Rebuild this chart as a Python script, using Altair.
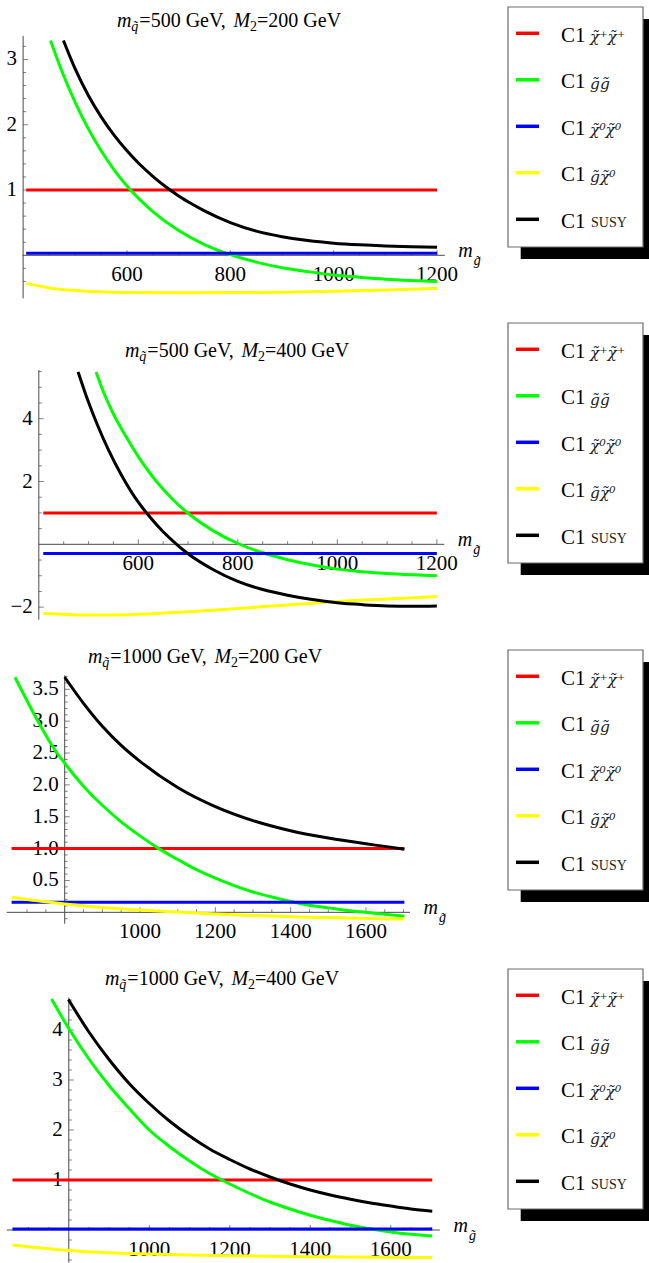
import altair as alt
import pandas as pd
import numpy as np

FONT = "Liberation Serif"
SUBFONT = "DejaVu Serif"
AXIS_COLOR = "#4a4a4a"
RED, GREEN, BLUE, YELLOW, BLACK = "#ff0000", "#00ff00", "#0000ff", "#ffff00", "#000000"
LW = 3.0

# ---------------- Panel 1: m_q = 500 GeV, M2 = 200 GeV ----------------
P1_CONST_X = [405, 1200]
P1_RED = 1.0
P1_BLUE = 0.03
P1_YELLOW_X = [405, 450, 500, 600, 700, 800, 900, 1000, 1100, 1200]
P1_YELLOW = [-0.43, -0.50, -0.54, -0.57, -0.575, -0.57, -0.565, -0.55, -0.53, -0.505]
P1_GREEN_X = [452, 475, 500, 525, 550, 575, 600, 650, 700, 750, 800, 850, 900, 950, 1000, 1050, 1100, 1150, 1200]
P1_GREEN = [3.29, 2.80, 2.34, 1.94, 1.60, 1.31, 1.06, 0.67, 0.38, 0.165, 0.01, -0.105, -0.19, -0.25, -0.30, -0.335, -0.365, -0.385, -0.40]
P1_BLACK_X = [477, 500, 525, 550, 575, 600, 625, 650, 675, 700, 725, 750, 800, 850, 900, 950, 1000, 1050, 1100, 1150, 1200]
P1_BLACK = [3.29, 2.85, 2.45, 2.12, 1.84, 1.60, 1.39, 1.21, 1.05, 0.91, 0.79, 0.68, 0.50, 0.37, 0.285, 0.225, 0.185, 0.16, 0.143, 0.132, 0.125]
P1_XMAJOR = [600, 800, 1000, 1200]
P1_XLABELS = ["600", "800", "1000", "1200"]
P1_YMAJOR = [1, 2, 3]
P1_YLABELS = ["1", "2", "3"]

# ---------------- Panel 2: m_q = 500 GeV, M2 = 400 GeV ----------------
P2_CONST_X = [409, 1200]
P2_RED = 1.0
P2_BLUE = -0.29
P2_YELLOW_X = [409, 450, 500, 550, 600, 700, 800, 900, 1000, 1100, 1200]
P2_YELLOW = [-2.2, -2.23, -2.25, -2.25, -2.23, -2.15, -2.04, -1.93, -1.82, -1.74, -1.66]
P2_GREEN_X = [515, 530, 550, 575, 600, 625, 650, 675, 700, 750, 800, 850, 900, 950, 1000, 1050, 1100, 1150, 1200]
P2_GREEN = [5.49, 4.85, 4.15, 3.44, 2.79, 2.23, 1.75, 1.34, 0.99, 0.435, 0.026, -0.27, -0.49, -0.66, -0.79, -0.87, -0.93, -0.97, -1.0]
P2_BLACK_X = [479, 500, 516, 540, 566, 600, 625, 650, 677, 700, 750, 800, 850, 900, 950, 1000, 1050, 1100, 1150, 1200]
P2_BLACK = [5.49, 4.52, 3.87, 3.01, 2.21, 1.34, 0.84, 0.40, 0.0, -0.30, -0.80, -1.18, -1.44, -1.62, -1.76, -1.86, -1.92, -1.96, -1.97, -1.96]
P2_XMAJOR = [600, 800, 1000, 1200]
P2_XLABELS = ["600", "800", "1000", "1200"]
P2_YMAJOR = [-2, 2, 4]
P2_YLABELS = ["\u22122", "2", "4"]

# ---------------- Panel 3: m_q = 1000 GeV, M2 = 200 GeV ----------------
P3_CONST_X = [659, 1702]
P3_RED = 1.0
P3_BLUE = 0.157
P3_YELLOW_X = [659, 700, 750, 800, 900, 1000, 1100, 1200, 1300, 1400, 1500, 1600, 1702]
P3_YELLOW = [0.235, 0.2, 0.165, 0.13, 0.075, 0.037, 0.005, -0.025, -0.05, -0.068, -0.083, -0.095, -0.105]
P3_GREEN_X = [668, 700, 726, 750, 775, 800, 850, 900, 950, 1000, 1050, 1100, 1150, 1200, 1250, 1300, 1350, 1400, 1450, 1500, 1550, 1600, 1650, 1702]
P3_GREEN = [3.69, 3.32, 3.03, 2.78, 2.54, 2.34, 1.98, 1.68, 1.42, 1.20, 1.0, 0.83, 0.67, 0.535, 0.42, 0.32, 0.24, 0.17, 0.11, 0.07, 0.03, 0.0, -0.03, -0.06]
P3_BLACK_X = [800, 850, 900, 950, 1000, 1100, 1200, 1300, 1400, 1500, 1600, 1650, 1702]
P3_BLACK = [3.69, 3.28, 2.92, 2.62, 2.37, 1.96, 1.66, 1.44, 1.28, 1.165, 1.075, 1.035, 0.99]
P3_XMAJOR = [1000, 1200, 1400, 1600]
P3_XLABELS = ["1000", "1200", "1400", "1600"]
P3_YMAJOR = [0.5, 1.0, 1.5, 2.0, 2.5, 3.0, 3.5]
P3_YLABELS = ["0.5", "1.0", "1.5", "2.0", "2.5", "3.0", "3.5"]

# ---------------- Panel 4: m_q = 1000 GeV, M2 = 400 GeV ----------------
P4_CONST_X = [660, 1703]
P4_RED = 1.0
P4_BLUE = 0.02
P4_YELLOW_X = [660, 700, 750, 800, 900, 1000, 1100, 1200, 1300, 1400, 1500, 1600, 1703]
P4_YELLOW = [-0.30, -0.335, -0.375, -0.41, -0.455, -0.48, -0.50, -0.515, -0.525, -0.533, -0.54, -0.545, -0.55]
P4_GREEN_X = [757, 800, 850, 900, 950, 1000, 1050, 1100, 1150, 1200, 1250, 1300, 1350, 1400, 1450, 1500, 1550, 1600, 1650, 1703]
P4_GREEN = [4.62, 4.03, 3.42, 2.89, 2.43, 2.0, 1.67, 1.38, 1.13, 0.92, 0.73, 0.56, 0.42, 0.295, 0.19, 0.095, 0.02, -0.04, -0.085, -0.12]
P4_BLACK_X = [799, 850, 900, 950, 1000, 1050, 1100, 1150, 1200, 1250, 1300, 1350, 1400, 1450, 1500, 1550, 1600, 1650, 1703]
P4_BLACK = [4.61, 3.96, 3.41, 2.93, 2.53, 2.18, 1.88, 1.62, 1.41, 1.22, 1.06, 0.92, 0.80, 0.70, 0.615, 0.54, 0.478, 0.42, 0.375]
P4_XMAJOR = [1000, 1200, 1400, 1600]
P4_XLABELS = ["1000", "1200", "1400", "1600"]
P4_YMAJOR = [1, 2, 3, 4]
P4_YLABELS = ["1", "2", "3", "4"]

# legend
LEG_SUBS = ["\u03c7\u0303\u207a\u03c7\u0303\u207a", "g\u0303g\u0303", "\u03c7\u0303\u2070\u03c7\u0303\u2070", "g\u0303\u03c7\u0303\u2070", "SUSY"]
LEG_COLORS = [RED, GREEN, BLUE, YELLOW, BLACK]


def ticks_between(start, stop, step, exclude):
    vals = np.round(np.arange(start, stop + step / 2, step), 6)
    return [float(v) for v in vals if not any(abs(v - e) < 1e-6 for e in exclude)]


# geometry (pixel layout of each panel)
G1 = dict(xd=[398, 1215], xr=[22.6, 444.8], yd=[-0.66, 3.36], yr=[298.4, 35.9], x0=399,
          xminor=ticks_between(450, 1200, 50, P1_XMAJOR), yminor=ticks_between(-0.4, 3.2, 0.2, [0] + P1_YMAJOR),
          title=("500", "200"), tcx=229, tby=27, leg=7)
G2 = dict(xd=[400, 1215], xr=[38.8, 444.3], yd=[-2.4, 5.55], yr=[619.7, 370.0], x0=400,
          xminor=ticks_between(450, 1200, 50, P2_XMAJOR), yminor=ticks_between(-1.5, 5.5, 0.5, [0] + P2_YMAJOR),
          title=("500", "400"), tcx=237, tby=357, leg=323)
G3 = dict(xd=[646, 1717], xr=[6.7, 410.0], yd=[-0.18, 3.72], yr=[923.8, 675.3], x0=800,
          xminor=ticks_between(700, 1700, 50, P3_XMAJOR + [800]), yminor=ticks_between(-0.1, 3.7, 0.1, [0] + P3_YMAJOR),
          title=("1000", "200"), tcx=205, tby=663, leg=650)
G4 = dict(xd=[646, 1722], xr=[6.8, 439.9], yd=[-0.65, 4.65], yr=[1262.5, 997.5], x0=800,
          xminor=ticks_between(700, 1700, 50, P4_XMAJOR + [800]), yminor=ticks_between(-0.6, 4.6, 0.2, [0] + P4_YMAJOR),
          title=("1000", "400"), tcx=222, tby=985, leg=969)

REG_W = {'=': 0.564, ' ': 0.25, ',': 0.25, 'G': 0.722, 'e': 0.444, 'V': 0.722}


def text_at(t, x, y, size, style="normal", align="left"):
    return alt.Chart(pd.DataFrame({"t": [t]})).mark_text(
        font=FONT, fontSize=size, fontStyle=style, align=align, baseline="alphabetic", color="black"
    ).encode(x=alt.value(x), y=alt.value(y), text="t:N")


def title_layers(mq, m2, cx, base):
    S, s = 20, 14
    t1 = f"={mq} GeV, "
    t2 = f"={m2} GeV"
    pieces = [
        ("m", S, "italic", 0, 0.722 * S),
        ("q\u0303", s, "italic", 4, 0.5 * s + 1),
        (t1, S, "normal", 0, sum(REG_W.get(c, 0.5) for c in t1) * S),
        ("M", S, "italic", 0, 0.833 * S),
        ("2", s, "normal", 4, 0.5 * s),
        (t2, S, "normal", 0, sum(REG_W.get(c, 0.5) for c in t2) * S),
    ]
    total = sum(p[4] for p in pieces)
    x = cx - total / 2
    out = []
    for t, size, style, dy, w in pieces:
        out.append(text_at(t, x, base + dy, size, style))
        x += w
    return out


def panel_layers(g, cx_, red, blue, yx, yv, gx, gv, bx, bv, xmaj, xlab, ymaj, ylab):
    sx = alt.Scale(domain=g["xd"], range=g["xr"], nice=False, zero=False)
    sy = alt.Scale(domain=g["yd"], range=g["yr"], nice=False, zero=False)

    def X(f):
        return alt.X(f, scale=sx, axis=None)

    def Y(f):
        return alt.Y(f, scale=sy, axis=None)

    L = []
    ax = pd.DataFrame({"x": [g["xd"][0], g["x0"]], "x2": [g["xd"][1], g["x0"]],
                       "y": [0.0, g["yd"][0]], "y2": [0.0, g["yd"][1]]})
    L.append(alt.Chart(ax).mark_rule(color=AXIS_COLOR, strokeWidth=1).encode(
        x=X("x:Q"), x2="x2:Q", y=Y("y:Q"), y2="y2:Q"))

    for vals, ln in ((xmaj, 5), (g["xminor"], 3)):
        df = pd.DataFrame({"x": vals, "y": [0.0] * len(vals)})
        L.append(alt.Chart(df).mark_tick(orient="vertical", size=ln, thickness=1, yOffset=-ln / 2,
                                         color=AXIS_COLOR).encode(x=X("x:Q"), y=Y("y:Q")))
    for vals, ln in ((ymaj, 5), (g["yminor"], 3)):
        df = pd.DataFrame({"x": [g["x0"]] * len(vals), "y": vals})
        L.append(alt.Chart(df).mark_tick(orient="horizontal", size=ln, thickness=1, xOffset=ln / 2,
                                         color=AXIS_COLOR).encode(x=X("x:Q"), y=Y("y:Q")))

    xl = pd.DataFrame({"x": xmaj, "y": [0.0] * len(xmaj), "t": xlab})
    L.append(alt.Chart(xl).mark_text(font=FONT, fontSize=21, baseline="top", dy=9, color="black").encode(
        x=X("x:Q"), y=Y("y:Q"), text="t:N"))
    yl = pd.DataFrame({"x": [g["x0"]] * len(ymaj), "y": ymaj, "t": ylab})
    L.append(alt.Chart(yl).mark_text(font=FONT, fontSize=21, align="right", baseline="middle", dx=-6,
                                     color="black").encode(x=X("x:Q"), y=Y("y:Q"), text="t:N"))

    # axis label m_g~
    ml = pd.DataFrame({"x": [g["xd"][1]], "y": [0.0]})
    L.append(alt.Chart(ml).mark_text(font=FONT, fontSize=20, fontStyle="italic", align="left",
                                     baseline="alphabetic", dx=13.5, dy=2, text="m").encode(x=X("x:Q"), y=Y("y:Q")))
    L.append(alt.Chart(ml).mark_text(font=FONT, fontSize=14, fontStyle="italic", align="left",
                                     baseline="alphabetic", dx=29, dy=10, text="g\u0303").encode(x=X("x:Q"), y=Y("y:Q")))

    series = [
        (cx_, [red, red], RED),
        (gx, gv, GREEN),
        (cx_, [blue, blue], BLUE),
        (yx, yv, YELLOW),
        (bx, bv, BLACK),
    ]
    for xs_, ys_, col in series:
        df = pd.DataFrame({"x": xs_, "y": ys_})
        L.append(alt.Chart(df).mark_line(color=col, strokeWidth=LW, interpolate="monotone").encode(
            x=X("x:Q"), y=Y("y:Q")))

    L += title_layers(g["title"][0], g["title"][1], g["tcx"], g["tby"])
    L += legend_layers(g["leg"])
    return L


def legend_layers(top):
    left, right, h = 508, 643, 240
    one = pd.DataFrame({"a": [0]})
    out = [
        alt.Chart(one).mark_rect(color="black").encode(
            x=alt.value(left + 12.7), x2=alt.value(right + 12.7), y=alt.value(top + 12), y2=alt.value(top + h + 12)),
        alt.Chart(one).mark_rect(fill="white", stroke="#6b6b6b", strokeWidth=1.2).encode(
            x=alt.value(left), x2=alt.value(right), y=alt.value(top), y2=alt.value(top + h)),
    ]
    ldf = pd.DataFrame({"idx": [0, 1, 2, 3, 4], "color": LEG_COLORS, "sub": LEG_SUBS})
    sy = alt.Scale(domain=[0, 4], range=[top + 26.3, top + 26.3 + 4 * 46.5], nice=False, zero=False)
    Y = alt.Y("idx:Q", scale=sy, axis=None)
    out.append(alt.Chart(ldf).mark_rule(strokeWidth=3.5).encode(
        x=alt.value(516), x2=alt.value(539), y=Y, color=alt.Color("color:N", scale=None, legend=None)))
    out.append(alt.Chart(ldf).mark_text(font=FONT, fontSize=21, align="left", baseline="alphabetic", dy=8.4,
                                        text="C1", color="black").encode(x=alt.value(561), y=Y))
    out.append(alt.Chart(ldf).transform_filter("datum.idx < 4").mark_text(
        font=SUBFONT, fontSize=15.5, fontStyle="italic", align="left", baseline="alphabetic", dy=9,
        color="#222222").encode(x=alt.value(590), y=Y, text="sub:N"))
    out.append(alt.Chart(ldf).transform_filter("datum.idx == 4").mark_text(
        font=FONT, fontSize=14, align="left", baseline="alphabetic", dy=7.5,
        color="#222222").encode(x=alt.value(591), y=Y, text="sub:N"))
    return out


layers = []
layers += panel_layers(G1, P1_CONST_X, P1_RED, P1_BLUE, P1_YELLOW_X, P1_YELLOW, P1_GREEN_X, P1_GREEN,
                       P1_BLACK_X, P1_BLACK, P1_XMAJOR, P1_XLABELS, P1_YMAJOR, P1_YLABELS)
layers += panel_layers(G2, P2_CONST_X, P2_RED, P2_BLUE, P2_YELLOW_X, P2_YELLOW, P2_GREEN_X, P2_GREEN,
                       P2_BLACK_X, P2_BLACK, P2_XMAJOR, P2_XLABELS, P2_YMAJOR, P2_YLABELS)
layers += panel_layers(G3, P3_CONST_X, P3_RED, P3_BLUE, P3_YELLOW_X, P3_YELLOW, P3_GREEN_X, P3_GREEN,
                       P3_BLACK_X, P3_BLACK, P3_XMAJOR, P3_XLABELS, P3_YMAJOR, P3_YLABELS)
layers += panel_layers(G4, P4_CONST_X, P4_RED, P4_BLUE, P4_YELLOW_X, P4_YELLOW, P4_GREEN_X, P4_GREEN,
                       P4_BLACK_X, P4_BLACK, P4_XMAJOR, P4_XLABELS, P4_YMAJOR, P4_YLABELS)

chart = alt.layer(*layers).resolve_scale(x="independent", y="independent").properties(
    width=649, height=1263, padding=0, autosize=alt.AutoSizeParams(type="none"), background="white"
).configure_view(stroke=None)

chart.save("out.html", embed_options={"renderer": "svg", "actions": False})
